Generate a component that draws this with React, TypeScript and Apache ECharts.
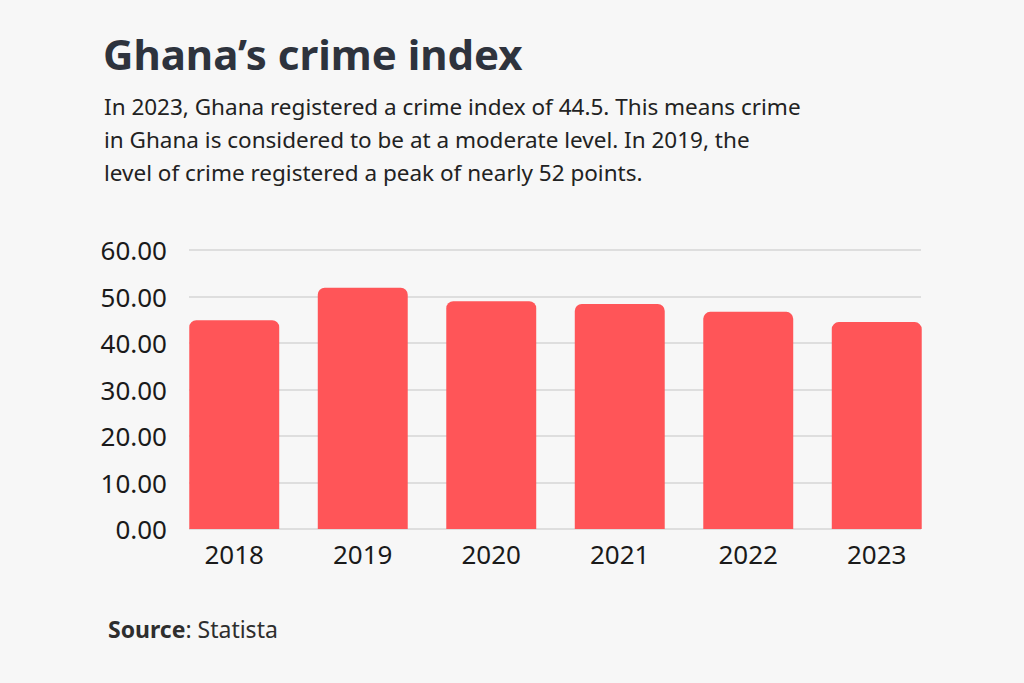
import React, { useEffect, useRef } from "react";
import * as echarts from "echarts";

const years = ["2018", "2019", "2020", "2021", "2022", "2023"];
const crimeIndex = [44.9, 51.9, 49.0, 48.4, 46.7, 44.5];
const yMin = 0;
const yMax = 60;
const yStep = 10;

const titleText = "Ghana\u2019s crime index";
const subtitleLines = [
  "In 2023, Ghana registered a crime index of 44.5. This means crime",
  "in Ghana is considered to be at a moderate level. In 2019, the",
  "level of crime registered a peak of nearly 52 points.",
];
const sourceLabel = "Source";
const sourceName = ": Statista";

export default function App() {
  const ref = useRef<HTMLDivElement>(null);
  useEffect(() => {
    if (!ref.current) return;
    const chart = echarts.init(ref.current, null, { renderer: "svg" });
    const font = "'Noto Sans', sans-serif";
    chart.setOption({
      animation: false,
      backgroundColor: "#f7f7f7",
      grid: [
        { left: 170, right: 83, top: 250, bottom: 154 },
        { left: 189, right: 103, top: 250, bottom: 154 },
      ],
      xAxis: [
        {
          type: "category",
          gridIndex: 0,
          data: years,
          axisLine: { show: false },
          axisTick: { show: false },
          axisLabel: { fontFamily: font, fontSize: 26, color: "#1a1a1a", margin: 12 },
        },
        { type: "value", gridIndex: 1, min: 0, max: 1, show: false },
      ],
      yAxis: [
        {
          type: "value",
          gridIndex: 0,
          min: yMin,
          max: yMax,
          interval: yStep,
          show: false,
          splitLine: { show: false },
        },
        {
          type: "value",
          gridIndex: 1,
          min: yMin,
          max: yMax,
          interval: yStep,
          axisLine: { show: false },
          axisTick: { show: false },
          axisLabel: {
            fontFamily: font,
            fontSize: 26,
            color: "#1a1a1a",
            margin: 22,
            formatter: (v: number) => v.toFixed(2),
          },
          splitLine: { lineStyle: { color: "#dedede", width: 2 } },
        },
      ],
      series: [
        {
          type: "bar",
          xAxisIndex: 0,
          yAxisIndex: 0,
          data: crimeIndex,
          barWidth: "70%",
          itemStyle: { color: "#ff5558", borderRadius: [7, 7, 0, 0] },
          z: 3,
        },
      ],
      graphic: [
        {
          type: "text",
          left: 103,
          top: 32,
          style: {
            text: titleText,
            font: `bold 42px 'Noto Sans', sans-serif`,
            fill: "#2e333d",
          },
        },
        {
          type: "text",
          left: 104,
          top: 90,
          style: {
            text: subtitleLines.join("\n"),
            font: `22.5px 'Noto Sans', sans-serif`,
            lineHeight: 33,
            fill: "#222222",
          },
        },
        {
          type: "text",
          left: 108,
          top: 617,
          style: {
            rich: {
              b: { font: `bold 23px 'Noto Sans', sans-serif`, fill: "#2e2e2e" },
              n: { font: `23px 'Noto Sans', sans-serif`, fill: "#2e2e2e" },
            },
            text: `{b|${sourceLabel}}{n|${sourceName}}`,
          },
        },
      ],
    });
    return () => chart.dispose();
  }, []);
  return (
    <div
      ref={ref}
      style={{ position: "fixed", left: 0, top: 0, width: 1024, height: 683 }}
    />
  );
}
